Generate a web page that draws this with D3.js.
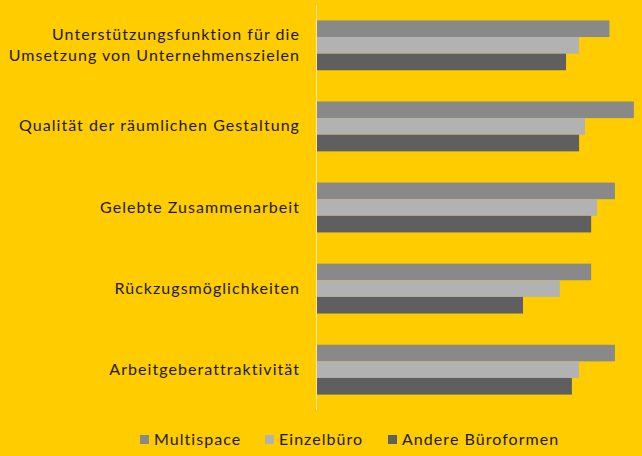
<!DOCTYPE html>
<html>
<head>
<meta charset="utf-8">
<script src="https://cdn.jsdelivr.net/npm/d3@7"></script>
<style>
  body { margin: 0; background: #ffcc00; }
  text { font-family: Lato, "Open Sans", sans-serif; fill: #1e1a10; letter-spacing: 1.05px; }
</style>
</head>
<body>
<div id="plot-area"></div>
<script>
// chart values (roughly in percent)
categories = [
    ["Unterstützungsfunktion für die", "Umsetzung von Unternehmenszielen"],
    ["Qualität der räumlichen Gestaltung"],
    ["Gelebte Zusammenarbeit"],
    ["Rückzugsmöglichkeiten"],
    ["Arbeitgeberattraktivität"]
]
seriesNames = ["Multispace", "Einzelbüro", "Andere Büroformen"]
multispace = [90.0, 97.5, 91.7, 84.4, 91.7]
einzelbuero = [80.7, 82.5, 86.2, 74.8, 80.7]
andere = [76.7, 80.7, 84.4, 63.5, 78.5]
colors = ["#898989", "#b2b2b2", "#5f5f5f"]

width = 642
height = 456

svg = d3.select("#plot-area").append("svg")
    .attr("width", width)
    .attr("height", height)

svg.append("rect")
    .attr("width", width).attr("height", height)
    .attr("fill", "#ffcc00")

yScale = d3.scaleBand()
    .domain(d3.range(categories.length))
    .range([5, 410])
    .paddingInner(0.385)
    .paddingOuter(0.19)

xScale = d3.scaleLinear()
    .domain([0, 100])
    .range([316, 642])

inner = d3.scaleBand()
    .domain(d3.range(seriesNames.length))
    .range([0, yScale.bandwidth()])

allSeries = [multispace, einzelbuero, andere]

allSeries.forEach(function(vals, s) {
    svg.append("g").selectAll("rect")
        .data(vals).enter()
        .append("rect")
        .attr("x", xScale(0))
        .attr("y", function(d, i) { return yScale(i) + inner(s) })
        .attr("width", function(d) { return xScale(d) - xScale(0) })
        .attr("height", inner.bandwidth())
        .attr("fill", colors[s])
})

// category axis, labels right aligned
yAxisG = svg.append("g")
yAxisG.append("line")
    .attr("x1", 316.5).attr("x2", 316.5)
    .attr("y1", 5).attr("y2", 410)
    .attr("stroke", "#f6e7a8")
    .attr("stroke-width", 1)

categories.forEach(function(lines, i) {
    cy = yScale(i) + yScale.bandwidth() / 2
    t = yAxisG.append("text")
        .attr("text-anchor", "end")
        .attr("font-size", 16)
        .attr("x", 300)
    lines.forEach(function(line, k) {
        t.append("tspan")
            .attr("x", 300)
            .attr("y", cy + 5 + (k - (lines.length - 1) / 2) * 21)
            .text(line)
    })
})

// legend
legendX = [140, 265, 388]
legend = svg.append("g")
seriesNames.forEach(function(name, s) {
    legend.append("rect")
        .attr("x", legendX[s]).attr("y", 435)
        .attr("width", 9).attr("height", 9)
        .attr("fill", colors[s])
    legend.append("text")
        .attr("x", legendX[s] + 14).attr("y", 445)
        .attr("font-size", 16)
        .text(name)
})
</script>
</body>
</html>
